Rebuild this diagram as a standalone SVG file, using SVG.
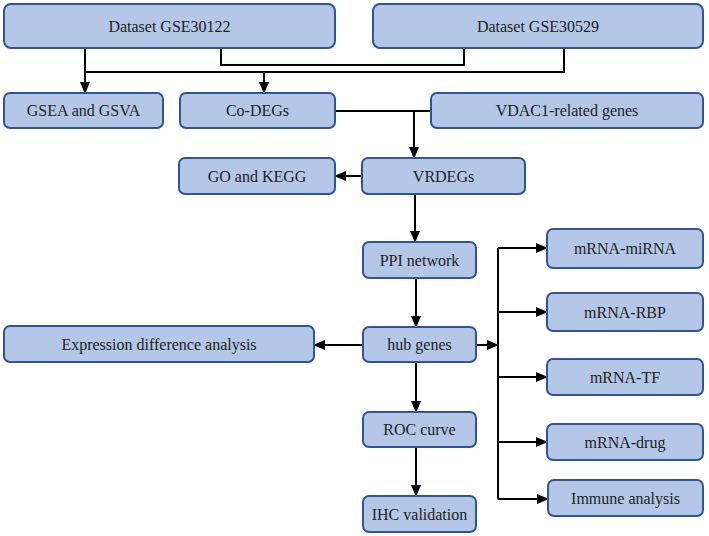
<svg xmlns="http://www.w3.org/2000/svg" width="709" height="536" viewBox="0 0 709 536">
<style>
.box{fill:#b4c7e7;stroke:#2f5597;stroke-width:2}
.t{font-family:"Liberation Serif","Times New Roman",serif;font-size:16px;fill:#222;text-anchor:middle}
.c{fill:none;stroke:#000;stroke-width:2}
.a{marker-end:url(#ah)}
</style>
<defs>
<marker id="ah" markerUnits="userSpaceOnUse" markerWidth="12" markerHeight="10" refX="11" refY="5" orient="auto">
<path d="M0,0 L12,5 L0,10 Z" fill="#000"/>
</marker>
</defs>
<rect width="709" height="536" fill="#fff"/>
<g id="connectors">
<path class="c" d="M221,48 V65 H464 V48"/>
<path class="c" d="M564,48 V72 H85"/>
<path class="c a" d="M85,48 V93"/>
<path class="c a" d="M264,72 V93"/>
<path class="c" d="M335,111 H431"/>
<path class="c a" d="M414,111 V158"/>
<path class="c a" d="M362,176 H335"/>
<path class="c a" d="M415,194 V242"/>
<path class="c a" d="M416,278 V327"/>
<path class="c a" d="M363,345 H314"/>
<path class="c a" d="M476,345 H498"/>
<path class="c" d="M498,248 V499"/>
<path class="c a" d="M498,248 H547"/>
<path class="c a" d="M498,312 H547"/>
<path class="c a" d="M498,377 H547"/>
<path class="c a" d="M498,442 H547"/>
<path class="c a" d="M498,499 H548"/>
<path class="c a" d="M416,362 V412"/>
<path class="c a" d="M416,447 V496"/>
</g>
<g id="gse30122"><rect class="box" x="4" y="4" width="331" height="44" rx="7"/><text class="t" x="169.5" y="31.5">Dataset GSE30122</text></g>
<g id="gse30529"><rect class="box" x="373" y="4" width="330" height="44" rx="7"/><text class="t" x="538" y="31.5">Dataset GSE30529</text></g>
<g id="gsea"><rect class="box" x="4" y="93" width="159" height="35" rx="6"/><text class="t" x="83.5" y="116">GSEA and GSVA</text></g>
<g id="codegs"><rect class="box" x="180" y="93" width="155" height="35" rx="6"/><text class="t" x="257.5" y="116">Co-DEGs</text></g>
<g id="vdac1"><rect class="box" x="431" y="93" width="272" height="35" rx="6"/><text class="t" x="567" y="116">VDAC1-related genes</text></g>
<g id="gokegg"><rect class="box" x="179" y="158" width="156" height="36" rx="6"/><text class="t" x="257" y="181.5">GO and KEGG</text></g>
<g id="vrdegs"><rect class="box" x="362" y="158" width="163" height="36" rx="6"/><text class="t" x="443.5" y="181.5">VRDEGs</text></g>
<g id="ppi"><rect class="box" x="363" y="242" width="113" height="36" rx="6"/><text class="t" x="419.5" y="265.5">PPI network</text></g>
<g id="hub"><rect class="box" x="363" y="327" width="113" height="35" rx="6"/><text class="t" x="419.5" y="350">hub genes</text></g>
<g id="expr"><rect class="box" x="4" y="326" width="310" height="36" rx="6"/><text class="t" x="159" y="349.5">Expression difference analysis</text></g>
<g id="roc"><rect class="box" x="363" y="412" width="113" height="35" rx="6"/><text class="t" x="419.5" y="435">ROC curve</text></g>
<g id="ihc"><rect class="box" x="363" y="496" width="113" height="36" rx="6"/><text class="t" x="419.5" y="519.5">IHC validation</text></g>
<g id="mirna"><rect class="box" x="547" y="229" width="156" height="39" rx="6"/><text class="t" x="625" y="254">mRNA-miRNA</text></g>
<g id="rbp"><rect class="box" x="547" y="293" width="156" height="38" rx="6"/><text class="t" x="625" y="317.5">mRNA-RBP</text></g>
<g id="tf"><rect class="box" x="547" y="359" width="156" height="36" rx="6"/><text class="t" x="625" y="382.5">mRNA-TF</text></g>
<g id="drug"><rect class="box" x="547" y="424" width="156" height="36" rx="6"/><text class="t" x="625" y="447.5">mRNA-drug</text></g>
<g id="immune"><rect class="box" x="548" y="480" width="155" height="36" rx="6"/><text class="t" x="625.5" y="503.5">Immune analysis</text></g>
</svg>
